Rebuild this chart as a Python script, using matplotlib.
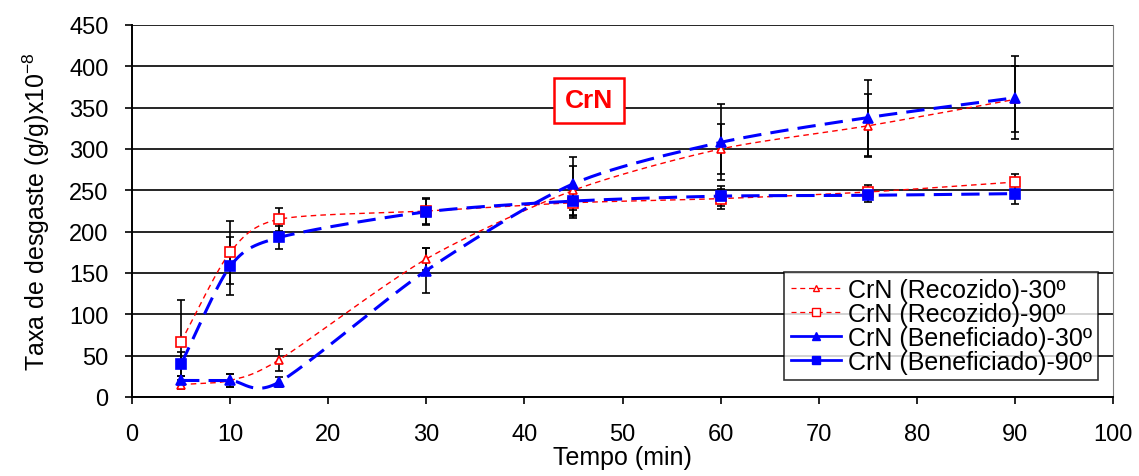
import numpy as np
import matplotlib.pyplot as plt

plt.rcParams['font.family'] = ['Liberation Sans', 'DejaVu Sans']
plt.rcParams['mathtext.fontset'] = 'custom'
plt.rcParams['mathtext.rm'] = 'Liberation Sans'

# Tempo (min)
tempo = [5, 10, 15, 30, 45, 60, 75, 90]

# taxa de desgaste (g/g)x10^-8 and error bars
rec30 = [15, 20, 45, 167, 250, 300, 328, 360]
rec30_err = [5, 8, 13, 13, 30, 30, 38, 40]
rec90 = [67, 175, 215, 225, 235, 240, 248, 260]
rec90_err = [50, 38, 14, 16, 18, 12, 8, 10]
ben30 = [20, 20, 18, 153, 258, 308, 338, 362]
ben30_err = [6, 8, 6, 27, 32, 46, 46, 50]
ben90 = [40, 158, 193, 224, 237, 243, 244, 246]
ben90_err = [15, 35, 14, 16, 18, 12, 8, 12]

labels = ['CrN (Recozido)-30º', 'CrN (Recozido)-90º',
          'CrN (Beneficiado)-30º', 'CrN (Beneficiado)-90º']


def smooth(x, y, n=30, k=0.4):
    # Catmull-Rom style curve through the points, like Excel's smoothed line
    x = np.asarray(x, float)
    y = np.asarray(y, float)
    px = np.concatenate([[2 * x[0] - x[1]], x, [2 * x[-1] - x[-2]]])
    py = np.concatenate([[2 * y[0] - y[1]], y, [2 * y[-1] - y[-2]]])
    xs, ys = [], []
    t = np.linspace(0, 1, n)
    h00 = 2 * t ** 3 - 3 * t ** 2 + 1
    h10 = t ** 3 - 2 * t ** 2 + t
    h01 = -2 * t ** 3 + 3 * t ** 2
    h11 = t ** 3 - t ** 2
    for i in range(1, len(px) - 2):
        for p, out in ((px, xs), (py, ys)):
            p0, p1, p2, p3 = p[i - 1], p[i], p[i + 1], p[i + 2]
            m1 = k * (p2 - p0)
            m2 = k * (p3 - p1)
            out.extend(h00 * p1 + h10 * m1 + h01 * p2 + h11 * m2)
    return xs, ys


fig = plt.figure(figsize=(11.39, 4.77), dpi=100)
ax = fig.add_axes([132 / 1139, 1 - 398 / 477, 981 / 1139, 372 / 477])

series = [
    (rec30, rec30_err, 'red', '^', 'none', 1.0, (0, (4, 3)), 6),
    (rec90, rec90_err, 'red', 's', 'none', 1.0, (0, (4, 3)), 7),
    (ben30, ben30_err, 'blue', '^', 'blue', 2.2, (0, (6, 3)), 7),
    (ben90, ben90_err, 'blue', 's', 'blue', 2.2, (0, (6, 3)), 7),
]

handles = []
for (y, err, c, m, fc, lw, ls, ms), lab in zip(series, labels):
    ax.errorbar(tempo, y, yerr=err, fmt='none', ecolor='black',
                elinewidth=1.2, capsize=3, capthick=1.2, zorder=2)
    sx, sy = smooth(tempo, y)
    ax.plot(sx, sy, color=c, lw=lw, linestyle=ls, zorder=3)
    ax.plot(tempo, y, linestyle='none', marker=m, markersize=ms,
            markerfacecolor=fc if fc != 'none' else 'white',
            markeredgecolor=c, markeredgewidth=1.2, zorder=4)
    h, = ax.plot([], [], color=c, lw=lw * 0.9, linestyle=ls if c == 'red' else '-',
                 marker=m, markersize=ms * 0.8,
                 markerfacecolor=fc if fc != 'none' else 'white',
                 markeredgecolor=c)
    handles.append(h)

ax.set_xlim(0, 100)
ax.set_ylim(0, 450)
ax.set_xticks(range(0, 101, 10))
ax.set_yticks(range(0, 451, 50))
ax.yaxis.grid(True, color='black', lw=1.2)
ax.set_axisbelow(True)
ax.tick_params(labelsize=17, direction='out', length=5, width=1.2)
ax.tick_params(axis='x', pad=14)
ax.tick_params(axis='y', pad=12)
ax.spines['top'].set_visible(False)
ax.spines['right'].set_color('gray')
ax.spines['left'].set_linewidth(1.4)
ax.spines['bottom'].set_linewidth(1.4)

ax.set_xlabel('Tempo (min)', fontsize=18, labelpad=0)
ax.set_ylabel('Taxa de desgaste (g/g)x10$^{\\mathrm{-8}}$', fontsize=18, labelpad=12)

ax.text(46.6, 359, 'CrN', color='red', fontsize=19, fontweight='bold',
        ha='center', va='center',
        bbox=dict(boxstyle='square,pad=0.4', facecolor='white',
                  edgecolor='red', lw=1.8))

leg = ax.legend(handles, labels, loc='lower right',
                bbox_to_anchor=(0.985, 0.045), fontsize=18,
                frameon=True, fancybox=False, edgecolor='black',
                handlelength=2.0, handletextpad=0.3, borderpad=0.25,
                labelspacing=0.0, borderaxespad=0)
leg.get_frame().set_linewidth(1.2)

plt.savefig('out.png', dpi=100)
